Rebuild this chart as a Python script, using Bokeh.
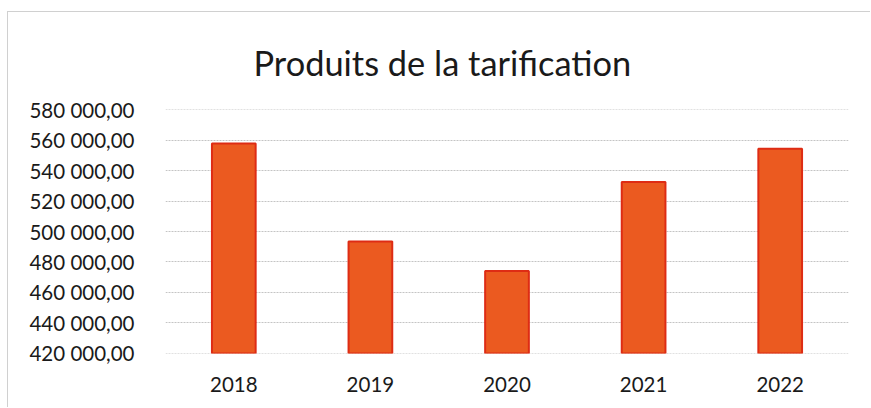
from bokeh.plotting import figure
from bokeh.models import FixedTicker, Range1d
from bokeh.embed import file_html
from bokeh.resources import INLINE

title_text = "Produits de la tarification"
years = ["2018", "2019", "2020", "2021", "2022"]
values = [558000, 493500, 474000, 532500, 554500]
y_ticks = [420000, 440000, 460000, 480000, 500000, 520000, 540000, 560000, 580000]
y_tick_labels = ["420 000,00", "440 000,00", "460 000,00", "480 000,00", "500 000,00",
                 "520 000,00", "540 000,00", "560 000,00", "580 000,00"]

p = figure(x_range=years, y_range=Range1d(419700, 580300), width=863, height=396,
           output_backend="svg", toolbar_location=None,
           min_border_left=157, min_border_right=23, min_border_top=97, min_border_bottom=55,
           title=title_text)
p.styles = {"border-left": "1px solid #d0d0d0", "border-top": "1px solid #d0d0d0",
            "margin-left": "7px", "margin-top": "11px"}
p.title.align = "left"
p.title.text_font = "Lato"
p.title.text_font_size = "34.4px"
p.title.text_font_style = "normal"
p.title.text_color = "#1a1a1a"
p.title.offset = 88
p.title.standoff = 53

p.vbar(x=years, top=values, bottom=419700, width=0.32,
       fill_color="#EB5A20", line_color="#DE2C14", line_width=2)

p.outline_line_color = None
p.background_fill_color = "white"
p.border_fill_color = "white"
p.xgrid.grid_line_color = None
p.ygrid.grid_line_color = "#c4c4c4"
p.ygrid.grid_line_dash = "2 1"
p.ygrid.grid_line_width = 1

p.yaxis.ticker = FixedTicker(ticks=y_ticks)
p.yaxis.major_label_overrides = {t: l for t, l in zip(y_ticks, y_tick_labels)}
for ax in (p.xaxis, p.yaxis):
    ax.axis_line_color = None
    ax.major_tick_line_color = None
    ax.minor_tick_line_color = None
    ax.major_label_text_font = "Lato"
    ax.major_label_text_font_size = "20.5px"
    ax.major_label_text_color = "#1a1a1a"
p.yaxis.major_label_standoff = 25
p.xaxis.major_label_standoff = 17

open("out.html", "w").write(file_html(p, INLINE))
